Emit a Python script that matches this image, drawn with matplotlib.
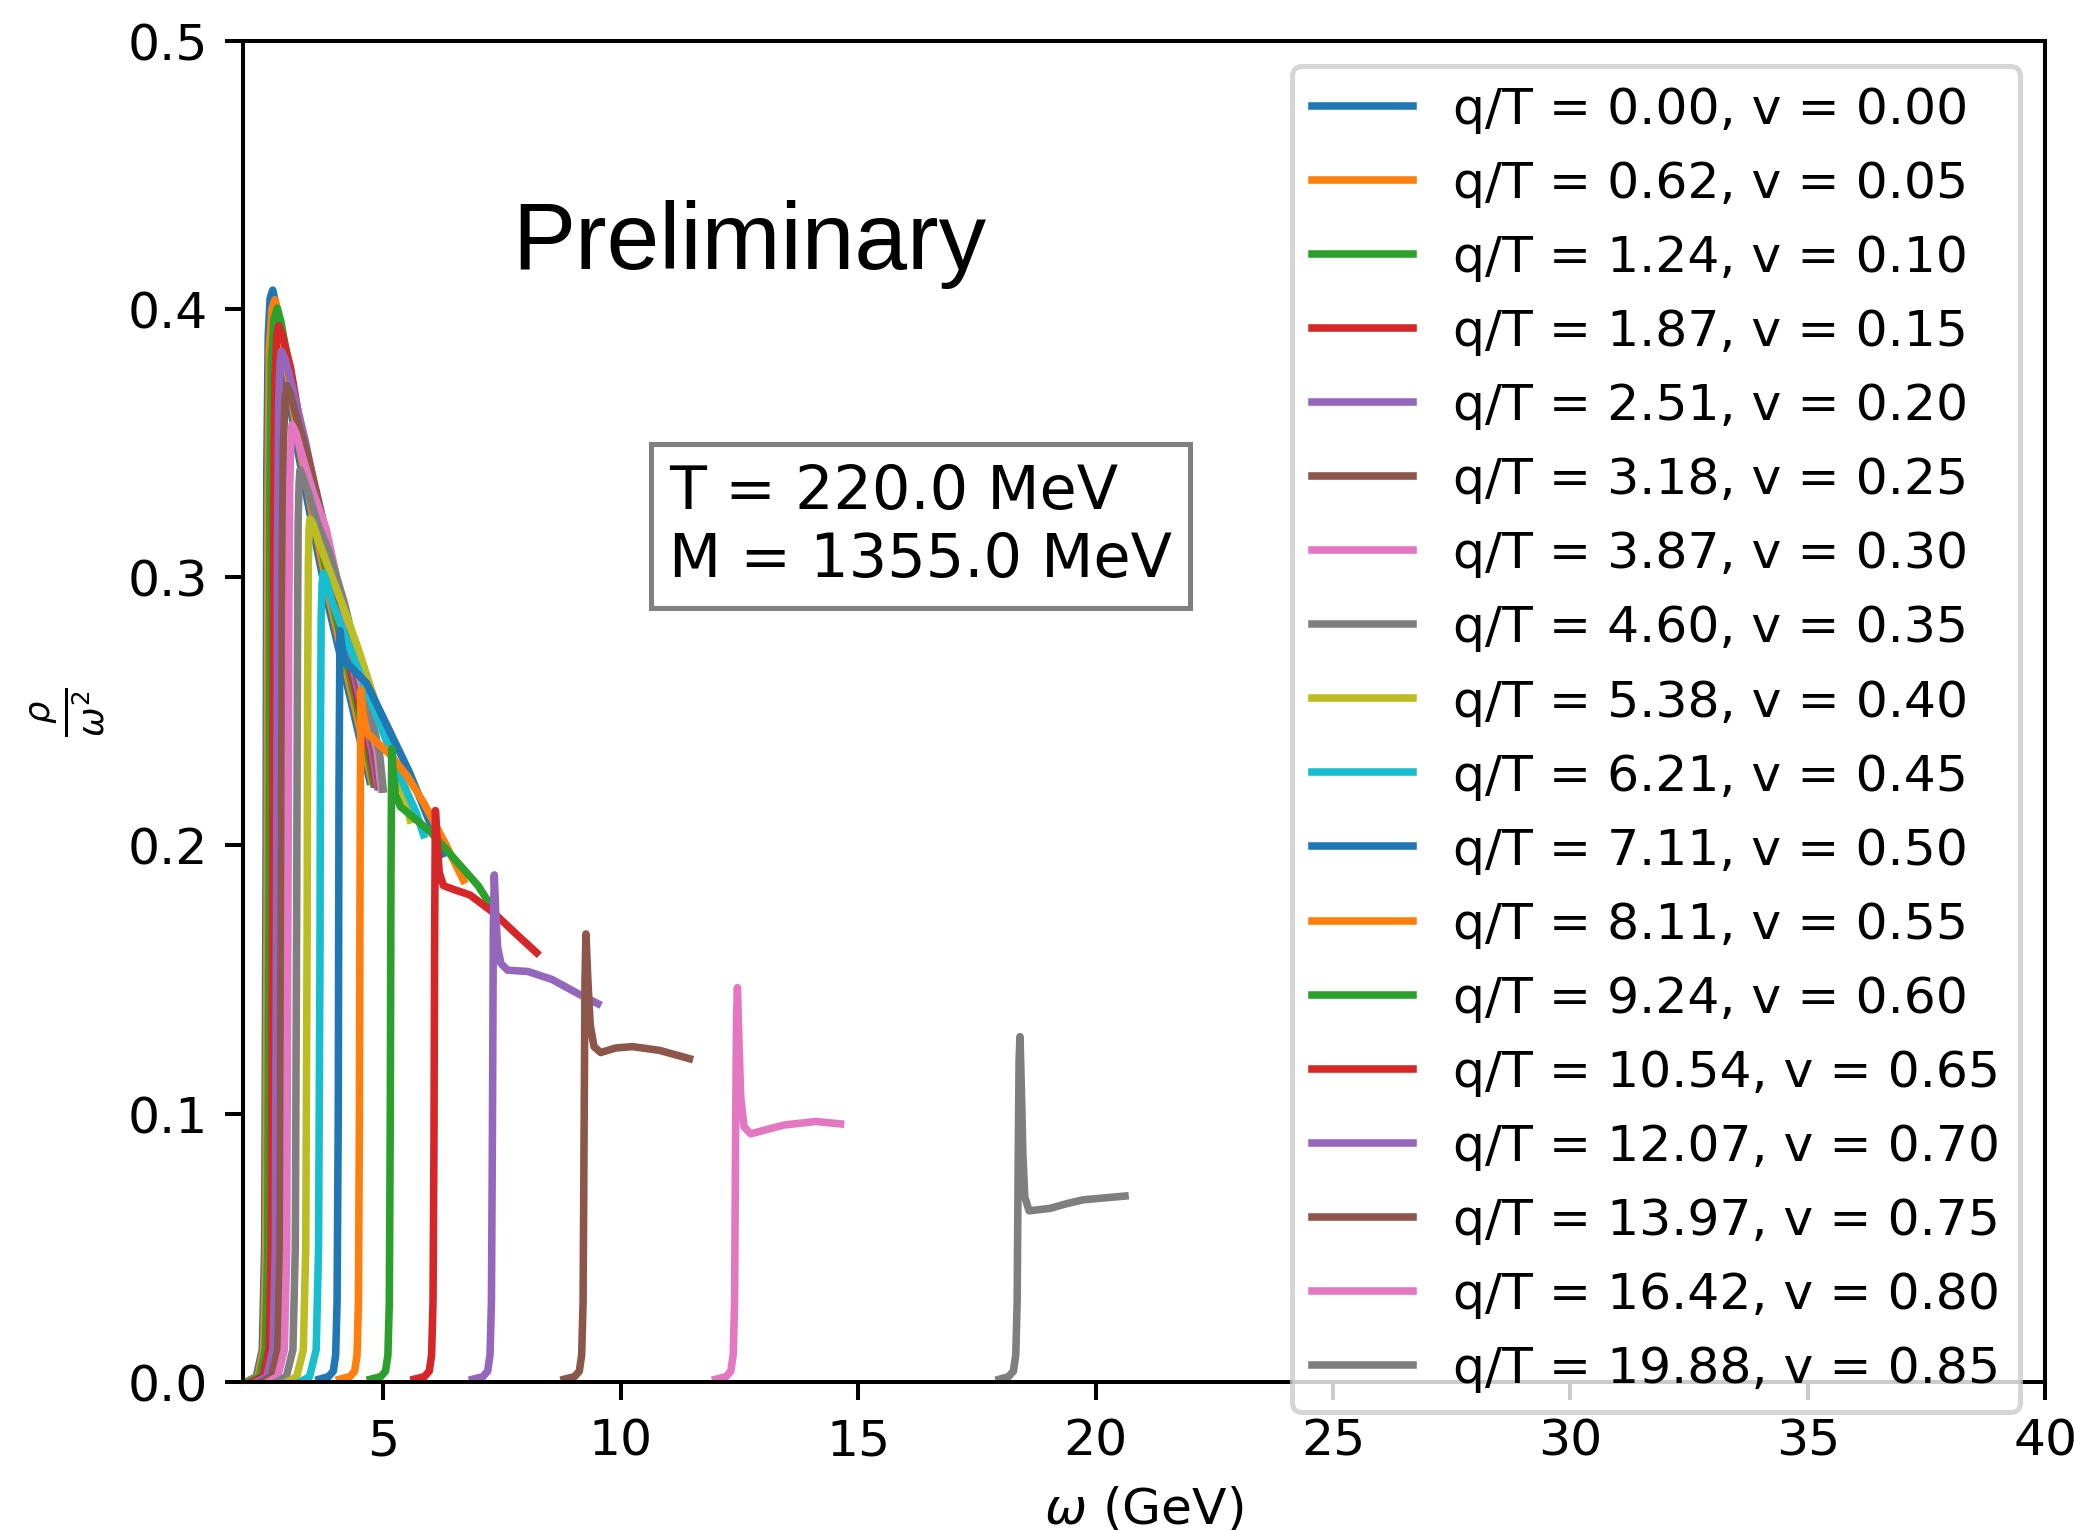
import matplotlib
matplotlib.use("Agg")
import matplotlib.pyplot as plt

# ---- data ----
q_over_T = [0.00, 0.62, 1.24, 1.87, 2.51, 3.18, 3.87, 4.60, 5.38, 6.21,
            7.11, 8.11, 9.24, 10.54, 12.07, 13.97, 16.42, 19.88]
velocity = [0.00, 0.05, 0.10, 0.15, 0.20, 0.25, 0.30, 0.35, 0.40, 0.45,
            0.50, 0.55, 0.60, 0.65, 0.70, 0.75, 0.80, 0.85]

w_00 = [2.115, 2.33, 2.455, 2.505, 2.535, 2.55, 2.58, 2.62, 2.675, 2.75, 2.90, 3.17, 3.50, 3.84, 4.24, 4.57, 4.72]
r_00 = [0.000, 0.002, 0.012, 0.05, 0.20, 0.34, 0.39, 0.404, 0.407, 0.401, 0.380, 0.350, 0.320, 0.290, 0.260, 0.235, 0.224]
w_05 = [2.14, 2.36, 2.48, 2.53, 2.56, 2.575, 2.605, 2.66, 2.72, 2.80, 2.95, 3.22, 3.55, 3.89, 4.29, 4.62, 4.76]
r_05 = [0.000, 0.002, 0.012, 0.05, 0.20, 0.33, 0.385, 0.400, 0.4034, 0.398, 0.380, 0.350, 0.320, 0.290, 0.260, 0.235, 0.224]
w_10 = [2.18, 2.40, 2.52, 2.57, 2.60, 2.615, 2.645, 2.70, 2.77, 2.85, 3.00, 3.27, 3.60, 3.94, 4.34, 4.67, 4.80]
r_10 = [0.000, 0.002, 0.012, 0.05, 0.20, 0.33, 0.38, 0.396, 0.4003, 0.395, 0.380, 0.350, 0.320, 0.290, 0.260, 0.235, 0.223]
w_15 = [2.255, 2.47, 2.595, 2.645, 2.675, 2.69, 2.72, 2.76, 2.80, 2.88, 3.05, 3.32, 3.65, 3.99, 4.39, 4.72, 4.84]
r_15 = [0.000, 0.002, 0.012, 0.05, 0.20, 0.32, 0.375, 0.390, 0.3937, 0.390, 0.378, 0.350, 0.320, 0.290, 0.260, 0.235, 0.223]
w_20 = [2.34, 2.55, 2.68, 2.73, 2.76, 2.775, 2.80, 2.83, 2.86, 2.94, 3.10, 3.37, 3.70, 4.04, 4.44, 4.77, 4.88]
r_20 = [0.000, 0.002, 0.012, 0.05, 0.20, 0.31, 0.365, 0.38, 0.3842, 0.381, 0.370, 0.350, 0.320, 0.290, 0.260, 0.235, 0.222]
w_25 = [2.44, 2.65, 2.78, 2.83, 2.86, 2.875, 2.90, 2.935, 2.97, 3.05, 3.20, 3.42, 3.75, 4.09, 4.49, 4.82, 4.92]
r_25 = [0.000, 0.002, 0.012, 0.05, 0.20, 0.30, 0.35, 0.366, 0.3714, 0.368, 0.358, 0.345, 0.320, 0.290, 0.260, 0.235, 0.222]
w_30 = [2.58, 2.78, 2.92, 2.97, 3.00, 3.015, 3.035, 3.055, 3.08, 3.16, 3.30, 3.50, 3.80, 4.14, 4.54, 4.87, 4.96]
r_30 = [0.000, 0.002, 0.012, 0.05, 0.20, 0.29, 0.335, 0.35, 0.3568, 0.354, 0.345, 0.333, 0.318, 0.290, 0.260, 0.235, 0.221]
w_35 = [2.76, 2.96, 3.10, 3.15, 3.18, 3.195, 3.21, 3.23, 3.25, 3.32, 3.45, 3.62, 3.85, 4.19, 4.59, 4.92, 5.00]
r_35 = [0.000, 0.002, 0.012, 0.05, 0.18, 0.27, 0.32, 0.335, 0.340, 0.337, 0.330, 0.320, 0.310, 0.290, 0.260, 0.235, 0.221]
w_40 = [2.98, 3.18, 3.32, 3.37, 3.40, 3.41, 3.425, 3.44, 3.46, 3.52, 3.65, 3.90, 4.20, 4.48, 4.90, 5.30, 5.57]
r_40 = [0.000, 0.002, 0.012, 0.05, 0.17, 0.26, 0.305, 0.318, 0.3217, 0.320, 0.313, 0.301, 0.287, 0.273, 0.250, 0.228, 0.2095]
w_45 = [3.25, 3.45, 3.59, 3.64, 3.67, 3.68, 3.695, 3.715, 3.74, 3.80, 3.90, 4.20, 4.60, 5.00, 5.40, 5.70, 5.85]
r_45 = [0.000, 0.002, 0.012, 0.05, 0.16, 0.24, 0.285, 0.298, 0.3015, 0.299, 0.292, 0.278, 0.260, 0.242, 0.224, 0.212, 0.204]
w_50 = [3.65, 3.85, 3.95, 4.00, 4.03, 4.055, 4.07, 4.09, 4.11, 4.15, 4.20, 4.40, 4.65, 5.10, 5.56, 5.95, 6.27]
r_50 = [0.001, 0.002, 0.004, 0.01, 0.03, 0.10, 0.22, 0.280, 0.277, 0.272, 0.2686, 0.265, 0.2605, 0.244, 0.227, 0.210, 0.197]
w_55 = [4.08, 4.30, 4.40, 4.45, 4.48, 4.50, 4.515, 4.53, 4.56, 4.60, 4.65, 5.14, 5.50, 5.85, 6.30, 6.69]
r_55 = [0.001, 0.002, 0.004, 0.01, 0.03, 0.10, 0.20, 0.258, 0.252, 0.246, 0.242, 0.234, 0.226, 0.216, 0.201, 0.187]
w_60 = [4.73, 4.95, 5.05, 5.10, 5.13, 5.15, 5.165, 5.18, 5.21, 5.26, 5.36, 5.60, 6.00, 6.50, 7.00, 7.25]
r_60 = [0.001, 0.002, 0.004, 0.01, 0.03, 0.10, 0.19, 0.236, 0.228, 0.219, 0.2145, 0.211, 0.205, 0.195, 0.185, 0.178]
w_65 = [5.65, 5.87, 5.97, 6.02, 6.05, 6.07, 6.085, 6.10, 6.13, 6.18, 6.27, 6.50, 6.83, 7.32, 7.80, 8.23]
r_65 = [0.001, 0.002, 0.004, 0.01, 0.03, 0.09, 0.17, 0.213, 0.204, 0.190, 0.185, 0.1835, 0.1815, 0.175, 0.167, 0.160]
w_70 = [6.88, 7.10, 7.20, 7.25, 7.28, 7.30, 7.32, 7.34, 7.37, 7.41, 7.48, 7.62, 8.05, 8.56, 9.13, 9.52]
r_70 = [0.001, 0.002, 0.004, 0.01, 0.03, 0.09, 0.17, 0.189, 0.175, 0.162, 0.156, 0.1535, 0.1530, 0.150, 0.1445, 0.141]
w_75 = [8.81, 9.03, 9.13, 9.18, 9.21, 9.23, 9.25, 9.27, 9.31, 9.36, 9.44, 9.58, 9.90, 10.25, 10.82, 11.45]
r_75 = [0.001, 0.002, 0.004, 0.01, 0.03, 0.09, 0.15, 0.167, 0.150, 0.133, 0.125, 0.1228, 0.1245, 0.1250, 0.1236, 0.1205]
w_80 = [12.00, 12.22, 12.32, 12.37, 12.40, 12.42, 12.44, 12.46, 12.49, 12.53, 12.60, 12.74, 13.10, 13.45, 14.11, 14.63]
r_80 = [0.001, 0.002, 0.004, 0.01, 0.03, 0.09, 0.135, 0.147, 0.128, 0.106, 0.095, 0.0925, 0.0942, 0.0958, 0.0971, 0.0962]
w_85 = [17.97, 18.17, 18.27, 18.32, 18.35, 18.37, 18.39, 18.41, 18.44, 18.47, 18.51, 18.60, 19.04, 19.40, 19.74, 20.62]
r_85 = [0.001, 0.002, 0.004, 0.01, 0.03, 0.08, 0.12, 0.1287, 0.108, 0.085, 0.069, 0.0638, 0.0647, 0.0665, 0.0679, 0.0693]

omega_series = [w_00, w_05, w_10, w_15, w_20, w_25, w_30, w_35, w_40, w_45,
                w_50, w_55, w_60, w_65, w_70, w_75, w_80, w_85]
rho_series = [r_00, r_05, r_10, r_15, r_20, r_25, r_30, r_35, r_40, r_45,
              r_50, r_55, r_60, r_65, r_70, r_75, r_80, r_85]

T_MeV = 220.0
M_MeV = 1355.0

# ---- figure ----
DPI = 363
fig = plt.figure(figsize=(2074.4 / DPI, 1530.4 / DPI), dpi=DPI)
W, H = 2074.0, 1530.0
ax = fig.add_axes([243 / W, (H - 1382) / H, (2045 - 243) / W, (1382 - 41) / H])

for qT, v, w, r in zip(q_over_T, velocity, omega_series, rho_series):
    ax.plot(w, r, lw=1.5, label=f"q/T = {qT:.2f}, v = {v:.2f}")

ax.set_xlim(2.05, 40)
ax.set_ylim(0, 0.5)
ax.set_xlabel(r"$\omega$ (GeV)")
ax.set_ylabel(r"$\frac{\rho}{\omega^2}$")

ax.text(7.72, 0.415, "Preliminary", fontsize=18.8, family="Liberation Sans",
        ha="left", va="baseline")

ax.text(16.31, 0.319, f"T = {T_MeV:.1f} MeV\nM = {M_MeV:.1f} MeV",
        fontsize=12, ha="center", va="center", multialignment="left",
        bbox=dict(boxstyle="square,pad=0.3", facecolor="white",
                  edgecolor="gray", linewidth=1.0))

ax.legend(loc="upper right", fontsize=10, labelspacing=0.516)

fig.savefig("out.png", dpi=DPI)
